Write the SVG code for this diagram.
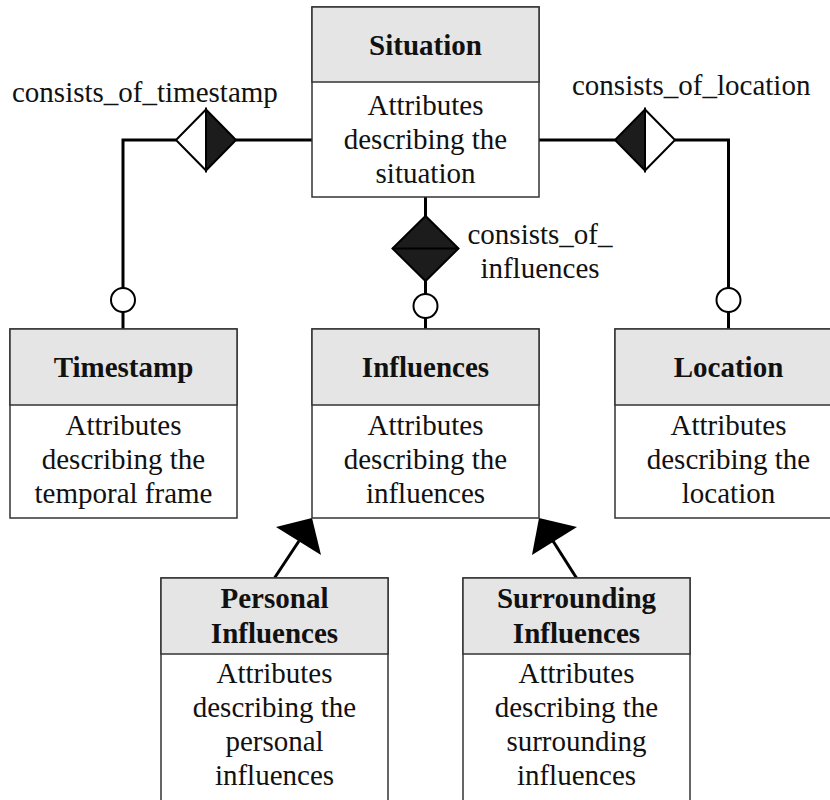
<svg xmlns="http://www.w3.org/2000/svg" width="830" height="800" viewBox="0 0 830 800">
  <style>
    .box { fill: #ffffff; stroke: #333333; stroke-width: 1.5; }
    .head { fill: #e5e5e5; stroke: #333333; stroke-width: 1.5; }
    .title { font-family: "Liberation Serif", "Times New Roman", serif; font-size: 29px; font-weight: bold; fill: #111111; text-anchor: middle; }
    .body { font-family: "Liberation Serif", "Times New Roman", serif; font-size: 29px; fill: #111111; text-anchor: middle; }
    .label { font-family: "Liberation Serif", "Times New Roman", serif; font-size: 29px; fill: #111111; }
    .wire { fill: none; stroke: #000000; stroke-width: 3; }
    .dark { fill: #1c1c1c; stroke: #000000; stroke-width: 2; stroke-linejoin: miter; }
    .light { fill: #ffffff; stroke: #000000; stroke-width: 2; stroke-linejoin: miter; }
    .ring { fill: #ffffff; stroke: #000000; stroke-width: 2; }
    .head-arrow { fill: #000000; stroke: none; }
  </style>

  <!-- connectors -->
  <g id="connectors">
    <!-- Situation to Timestamp -->
    <path class="wire" d="M312,140 H236 M176,140 H123 V288 M123,312 V329"/>
    <polygon class="light" points="206,109.5 176,140 206,170.5"/>
    <polygon class="dark" points="206,109.5 236,140 206,170.5"/>
    <circle class="ring" cx="123" cy="300" r="12"/>

    <!-- Situation to Location -->
    <path class="wire" d="M539,140 H615 M675,140 H728.5 V288 M728.5,312 V329"/>
    <polygon class="dark" points="645,109.5 615,140 645,170.5"/>
    <polygon class="light" points="645,109.5 675,140 645,170.5"/>
    <circle class="ring" cx="728.5" cy="300" r="12"/>

    <!-- Situation to Influences -->
    <path class="wire" d="M425.5,197 V216 M425.5,281 V294 M425.5,318 V329"/>
    <polygon class="dark" points="425.5,216 392.5,248.5 425.5,281 458.5,248.5"/>
    <line x1="392.5" y1="248.5" x2="458.5" y2="248.5" stroke="#000000" stroke-width="2"/>
    <circle class="ring" cx="425.5" cy="306" r="12"/>

    <!-- Personal Influences to Influences -->
    <line class="wire" x1="274.5" y1="578" x2="299" y2="541"/>
    <polygon class="head-arrow" points="312,518 276,527 321,555"/>

    <!-- Surrounding Influences to Influences -->
    <line class="wire" x1="576.5" y1="578" x2="553" y2="541"/>
    <polygon class="head-arrow" points="539,518 577,527 532,555"/>

    <!-- relation labels -->
    <text class="label" x="12" y="102">consists_of_timestamp</text>
    <text class="label" x="572" y="95">consists_of_location</text>
    <text class="label" x="540" y="244" text-anchor="middle">consists_of_</text>
    <text class="label" x="540" y="278" text-anchor="middle">influences</text>
  </g>

  <!-- Situation -->
  <g id="situation">
    <rect class="box" x="312" y="7" width="227" height="190"/>
    <rect class="head" x="312" y="7" width="227" height="75"/>
    <text class="title" x="425.5" y="55">Situation</text>
    <text class="body" x="425.5" y="115">Attributes</text>
    <text class="body" x="425.5" y="149">describing the</text>
    <text class="body" x="425.5" y="183">situation</text>
  </g>

  <!-- Timestamp -->
  <g id="timestamp">
    <rect class="box" x="10" y="329" width="227" height="189"/>
    <rect class="head" x="10" y="329" width="227" height="76"/>
    <text class="title" x="123.5" y="377">Timestamp</text>
    <text class="body" x="123.5" y="435">Attributes</text>
    <text class="body" x="123.5" y="469">describing the</text>
    <text class="body" x="123.5" y="503">temporal frame</text>
  </g>

  <!-- Influences -->
  <g id="influences">
    <rect class="box" x="312" y="329" width="227" height="189"/>
    <rect class="head" x="312" y="329" width="227" height="76"/>
    <text class="title" x="425.5" y="377">Influences</text>
    <text class="body" x="425.5" y="435">Attributes</text>
    <text class="body" x="425.5" y="469">describing the</text>
    <text class="body" x="425.5" y="503">influences</text>
  </g>

  <!-- Location -->
  <g id="location">
    <rect class="box" x="615" y="329" width="227" height="189"/>
    <rect class="head" x="615" y="329" width="227" height="76"/>
    <text class="title" x="728.5" y="377">Location</text>
    <text class="body" x="728.5" y="435">Attributes</text>
    <text class="body" x="728.5" y="469">describing the</text>
    <text class="body" x="728.5" y="503">location</text>
  </g>

  <!-- Personal Influences -->
  <g id="personal-influences">
    <rect class="box" x="161" y="578" width="227" height="240"/>
    <rect class="head" x="161" y="578" width="227" height="76"/>
    <text class="title" x="274.5" y="608">Personal</text>
    <text class="title" x="274.5" y="643">Influences</text>
    <text class="body" x="274.5" y="683">Attributes</text>
    <text class="body" x="274.5" y="717">describing the</text>
    <text class="body" x="274.5" y="751">personal</text>
    <text class="body" x="274.5" y="785">influences</text>
  </g>

  <!-- Surrounding Influences -->
  <g id="surrounding-influences">
    <rect class="box" x="463" y="578" width="227" height="240"/>
    <rect class="head" x="463" y="578" width="227" height="76"/>
    <text class="title" x="576.5" y="608">Surrounding</text>
    <text class="title" x="576.5" y="643">Influences</text>
    <text class="body" x="576.5" y="683">Attributes</text>
    <text class="body" x="576.5" y="717">describing the</text>
    <text class="body" x="576.5" y="751">surrounding</text>
    <text class="body" x="576.5" y="785">influences</text>
  </g>
</svg>
